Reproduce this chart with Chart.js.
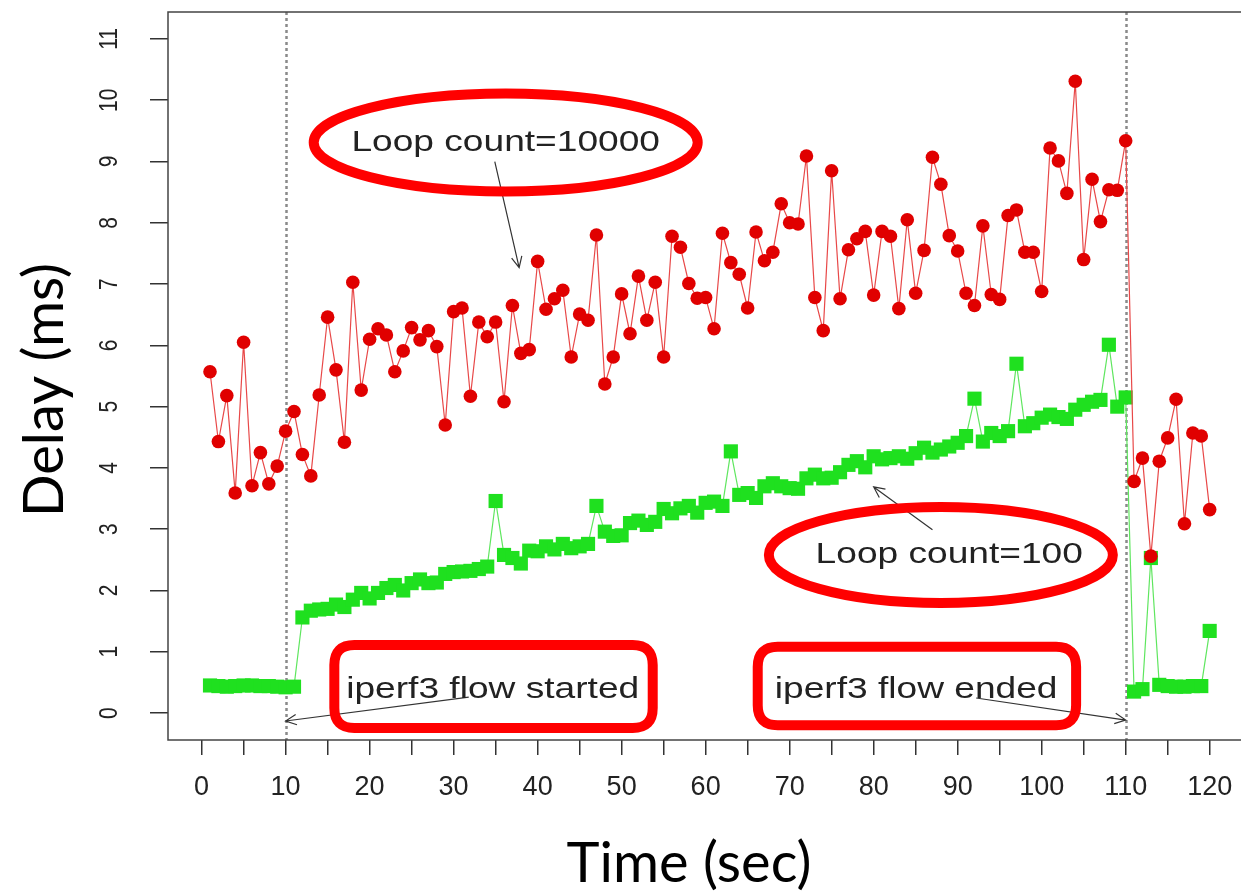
<!DOCTYPE html>
<html>
<head>
<meta charset="utf-8">
<script src="https://cdn.jsdelivr.net/npm/chart.js@4.4.1/dist/chart.umd.min.js"></script>
<style>
    html, body { margin: 0; padding: 0; background: #fff; overflow: hidden; }
    #wrap { width: 1241px; height: 892px; overflow: hidden; }
</style>
</head>
<body>
<div id="wrap"><canvas id="chart" width="1260" height="892"></canvas></div>
<script>
// sample time (sec)
let times = [
    1, 2, 3, 4, 5, 6, 7, 8, 9, 10, 11, 12, 13, 14, 15, 16, 17, 18, 19, 20,
    21, 22, 23, 24, 25, 26, 27, 28, 29, 30, 31, 32, 33, 34, 35, 36, 37, 38, 39, 40,
    41, 42, 43, 44, 45, 46, 47, 48, 49, 50, 51, 52, 53, 54, 55, 56, 57, 58, 59, 60,
    61, 62, 63, 64, 65, 66, 67, 68, 69, 70, 71, 72, 73, 74, 75, 76, 77, 78, 79, 80,
    81, 82, 83, 84, 85, 86, 87, 88, 89, 90, 91, 92, 93, 94, 95, 96, 97, 98, 99, 100,
    101, 102, 103, 104, 105, 106, 107, 108, 109, 110, 111, 112, 113, 114, 115, 116, 117, 118, 119, 120
];

// Loop count=10000 (red)
let delay10000 = [
    5.57, 4.43, 5.18, 3.59, 6.05, 3.71, 4.25, 3.74, 4.03, 4.60,
    4.92, 4.22, 3.87, 5.19, 6.46, 5.60, 4.42, 7.03, 5.27, 6.10,
    6.27, 6.17, 5.57, 5.91, 6.29, 6.09, 6.24, 5.98, 4.70, 6.55,
    6.61, 5.17, 6.38, 6.14, 6.38, 5.08, 6.65, 5.87, 5.93, 7.37,
    6.59, 6.76, 6.90, 5.81, 6.51, 6.41, 7.80, 5.37, 5.81, 6.84,
    6.19, 7.13, 6.41, 7.03, 5.81, 7.78, 7.60, 7.01, 6.77, 6.78,
    6.27, 7.83, 7.35, 7.16, 6.61, 7.85, 7.38, 7.52, 8.31, 8.00,
    7.98, 9.09, 6.78, 6.24, 8.85, 6.76, 7.56, 7.74, 7.86, 6.82,
    7.86, 7.78, 6.60, 8.05, 6.85, 7.55, 9.07, 8.63, 7.79, 7.54,
    6.85, 6.65, 7.95, 6.83, 6.75, 8.12, 8.21, 7.52, 7.52, 6.88,
    9.22, 9.01, 8.48, 10.31, 7.40, 8.71, 8.02, 8.54, 8.53, 9.34,
    3.78, 4.16, 2.56, 4.11, 4.49, 5.12, 3.09, 4.57, 4.52, 3.32
];

// Loop count=100 (green)
let delay100 = [
    0.45, 0.44, 0.43, 0.44, 0.45, 0.45, 0.44, 0.44, 0.43, 0.42,
    0.43, 1.56, 1.67, 1.69, 1.70, 1.77, 1.73, 1.85, 1.96, 1.87,
    1.96, 2.04, 2.09, 2.00, 2.12, 2.18, 2.12, 2.13, 2.27, 2.30,
    2.31, 2.32, 2.35, 2.39, 3.46, 2.58, 2.53, 2.44, 2.65, 2.64,
    2.72, 2.67, 2.76, 2.69, 2.72, 2.76, 3.38, 2.96, 2.89, 2.90,
    3.10, 3.14, 3.07, 3.12, 3.33, 3.26, 3.34, 3.38, 3.27, 3.43,
    3.45, 3.38, 4.27, 3.56, 3.59, 3.51, 3.70, 3.75, 3.70, 3.67,
    3.66, 3.83, 3.89, 3.83, 3.84, 3.93, 4.05, 4.11, 4.01, 4.19,
    4.14, 4.16, 4.19, 4.15, 4.24, 4.33, 4.25, 4.30, 4.35, 4.41,
    4.52, 5.13, 4.43, 4.57, 4.52, 4.60, 5.70, 4.68, 4.73, 4.82,
    4.87, 4.83, 4.80, 4.95, 5.03, 5.08, 5.11, 6.01, 5.00, 5.15,
    0.35, 0.39, 2.53, 0.46, 0.44, 0.43, 0.43, 0.44, 0.44, 1.34
];

let xTicks = [0, 5, 10, 15, 20, 25, 30, 35, 40, 45, 50, 55, 60, 65, 70, 75, 80, 85, 90, 95, 100, 105, 110, 115, 120];
let yTicks = [0, 1, 2, 3, 4, 5, 6, 7, 8, 9, 10, 11];
let flowEvents = [10, 110]; // iperf3 start / end

let xTitle = "Time (sec)";
let yTitle = "Delay (ms)";

// callouts, placed in data units
let ovals = [
    { text: "Loop count=10000", x: 36.2, y: 9.31, rx: 192, ry: 49, tx: 36.2 },
    { text: "Loop count=100", x: 88.0, y: 2.58, rx: 172, ry: 48, tx: 89.0 },
];
let boxes = [
    { text: "iperf3 flow started", x0: 15.8, x1: 53.7, y0: 1.11, y1: -0.245, tx: 34.65, ty: 0.376 },
    { text: "iperf3 flow ended", x0: 66.2, x1: 104.1, y0: 1.08, y1: -0.20, tx: 85.06, ty: 0.376 },
];
let arrows = [
    { from: [34.9, 9.0], to: [37.8, 7.27] },
    { from: [87.0, 2.99], to: [80.0, 3.69] },
    { from: [31.8, 0.26], to: [10.0, -0.13] },
    { from: [92.2, 0.245], to: [110.0, -0.115] },
];

function pairs(xs, ys) {
    return xs.map(function (x, i) { return { x: x, y: ys[i] }; });
}

// R text looks stretched sideways in the picture
const STRETCH = 1.28;

function stretchedText(ctx, text, x, y, font, sx) {
    ctx.save();
    ctx.translate(x, y);
    ctx.scale(sx, 1);
    ctx.font = font;
    ctx.textAlign = "center";
    ctx.textBaseline = "middle";
    ctx.fillText(text, 0, 0);
    ctx.restore();
}

function drawArrow(ctx, x1, y1, x2, y2) {
    let a = Math.atan2(y2 - y1, x2 - x1);
    let h = 12;
    ctx.beginPath();
    ctx.moveTo(x1, y1);
    ctx.lineTo(x2, y2);
    ctx.moveTo(x2 - h * Math.cos(a - 0.45), y2 - h * Math.sin(a - 0.45));
    ctx.lineTo(x2, y2);
    ctx.lineTo(x2 - h * Math.cos(a + 0.45), y2 - h * Math.sin(a + 0.45));
    ctx.stroke();
}

function roundRect(ctx, x, y, w, h, r) {
    ctx.beginPath();
    ctx.moveTo(x + r, y);
    ctx.lineTo(x + w - r, y);
    ctx.quadraticCurveTo(x + w, y, x + w, y + r);
    ctx.lineTo(x + w, y + h - r);
    ctx.quadraticCurveTo(x + w, y + h, x + w - r, y + h);
    ctx.lineTo(x + r, y + h);
    ctx.quadraticCurveTo(x, y + h, x, y + h - r);
    ctx.lineTo(x, y + r);
    ctx.quadraticCurveTo(x, y, x + r, y);
    ctx.closePath();
}

// dotted lines where the flow starts and stops
const eventLines = {
    id: "eventLines",
    beforeDatasetsDraw(chart) {
        let ctx = chart.ctx, a = chart.chartArea, xs = chart.scales.x;
        ctx.save();
        ctx.strokeStyle = "#8a8a8a";
        ctx.lineWidth = 2.5;
        ctx.setLineDash([3, 3]);
        flowEvents.forEach(function (t) {
            let px = Math.round(xs.getPixelForValue(t)) + 0.5;
            ctx.beginPath();
            ctx.moveTo(px, a.top);
            ctx.lineTo(px, a.bottom);
            ctx.stroke();
        });
        ctx.restore();
    },
};

// box, rotated y labels, axis titles, callouts
const decorations = {
    id: "decorations",
    afterDraw(chart) {
        let ctx = chart.ctx, a = chart.chartArea;
        let xs = chart.scales.x, ys = chart.scales.y;
        ctx.save();

        ctx.strokeStyle = "#444";
        ctx.lineWidth = 1.5;
        ctx.strokeRect(a.left, a.top, a.right - a.left, a.bottom - a.top);

        // y tick labels, R style (rotated)
        ctx.fillStyle = "#222";
        yTicks.forEach(function (v) {
            let py = ys.getPixelForValue(v);
            ctx.save();
            ctx.translate(110, py);
            ctx.scale(1.2, 1);
            ctx.rotate(-Math.PI / 2);
            ctx.font = "21px 'Liberation Sans'";
            ctx.textAlign = "center";
            ctx.textBaseline = "middle";
            ctx.fillText(String(v), 0, 0);
            ctx.restore();
        });

        // axis titles
        ctx.fillStyle = "#000";
        ctx.font = "56px Lato";
        ctx.textAlign = "center";
        ctx.textBaseline = "alphabetic";
        ctx.fillText(xTitle, 689, 882);
        ctx.save();
        ctx.translate(63, 390);
        ctx.rotate(-Math.PI / 2);
        ctx.fillText(yTitle, 0, 0);
        ctx.restore();

        // arrows
        ctx.strokeStyle = "#333";
        ctx.lineWidth = 1.2;
        arrows.forEach(function (ar) {
            drawArrow(ctx,
                xs.getPixelForValue(ar.from[0]), ys.getPixelForValue(ar.from[1]),
                xs.getPixelForValue(ar.to[0]), ys.getPixelForValue(ar.to[1]));
        });

        // red ovals and boxes
        ctx.strokeStyle = "#ff0000";
        ctx.lineWidth = 10;
        ovals.forEach(function (o) {
            ctx.beginPath();
            ctx.ellipse(xs.getPixelForValue(o.x), ys.getPixelForValue(o.y), o.rx, o.ry, 0, 0, Math.PI * 2);
            ctx.stroke();
        });
        boxes.forEach(function (b) {
            let x0 = xs.getPixelForValue(b.x0), x1 = xs.getPixelForValue(b.x1);
            let y0 = ys.getPixelForValue(b.y0), y1 = ys.getPixelForValue(b.y1);
            roundRect(ctx, x0, y0, x1 - x0, y1 - y0, 20);
            ctx.stroke();
        });

        // callout texts
        ctx.fillStyle = "#222";
        ovals.forEach(function (o) {
            stretchedText(ctx, o.text, xs.getPixelForValue(o.tx), ys.getPixelForValue(o.y),
                "29px 'Liberation Sans'", STRETCH);
        });
        boxes.forEach(function (b) {
            stretchedText(ctx, b.text, xs.getPixelForValue(b.tx), ys.getPixelForValue(b.ty),
                "29px 'Liberation Sans'", STRETCH);
        });

        ctx.restore();
    },
};

let ctx = document.getElementById("chart").getContext("2d");

new Chart(ctx, {
    type: "line",
    data: {
        datasets: [
            {
                label: "Loop count=10000",
                data: pairs(times, delay10000),
                borderColor: "#e84848",
                borderWidth: 1.2,
                pointStyle: "circle",
                pointRadius: 6.8,
                pointBackgroundColor: "#e00000",
                pointBorderColor: "#e00000",
                pointBorderWidth: 0,
                tension: 0,
                order: 0,
            },
            {
                label: "Loop count=100",
                data: pairs(times, delay100),
                borderColor: "#5fe65f",
                borderWidth: 1.2,
                pointStyle: "rect",
                pointRadius: 10,
                pointBackgroundColor: "#1fe01f",
                pointBorderColor: "#1fe01f",
                pointBorderWidth: 0,
                tension: 0,
                order: 1,
            },
        ],
    },
    options: {
        responsive: false,
        animation: false,
        events: [],
        layout: { padding: { top: 12, right: 5, left: 0, bottom: 0 } },
        plugins: {
            legend: { display: false },
            tooltip: { enabled: false },
        },
        scales: {
            x: {
                type: "linear",
                min: -4,
                max: 124.8,
                afterBuildTicks: function (s) { s.ticks = xTicks.map(function (v) { return { value: v }; }); },
                afterFit: function (s) { s.height = 152; },
                border: { display: false },
                grid: { drawOnChartArea: false, drawTicks: true, tickLength: 15, color: "#333", lineWidth: 1.5 },
                ticks: {
                    autoSkip: false,
                    maxRotation: 0,
                    padding: 16,
                    color: "#222",
                    font: { family: "Liberation Sans", size: 27 },
                    callback: function (v) { return v % 10 === 0 ? String(v) : ""; },
                },
            },
            y: {
                type: "linear",
                min: -0.44,
                max: 11.44,
                afterBuildTicks: function (s) { s.ticks = yTicks.map(function (v) { return { value: v }; }); },
                afterFit: function (s) { s.width = 168; },
                border: { display: false },
                grid: { drawOnChartArea: false, drawTicks: true, tickLength: 18, color: "#333", lineWidth: 1.5 },
                ticks: { display: false },
            },
        },
    },
    plugins: [eventLines, decorations],
});
</script>
</body>
</html>
